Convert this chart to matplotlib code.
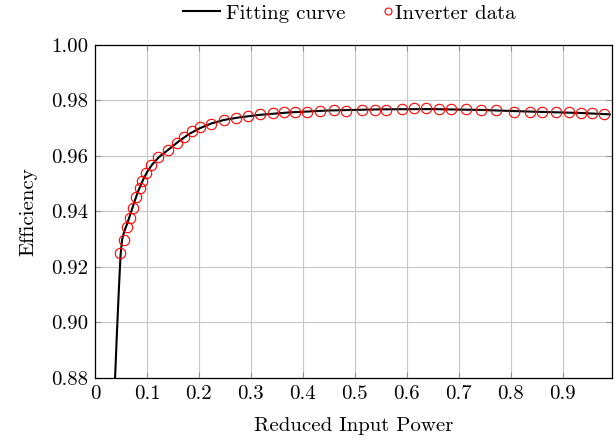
import matplotlib
matplotlib.use('Agg')
import matplotlib.pyplot as plt
from matplotlib.lines import Line2D
from matplotlib.ticker import FixedLocator, FixedFormatter

plt.rcParams['font.family'] = 'cmr10'
plt.rcParams['mathtext.fontset'] = 'cm'
plt.rcParams['axes.formatter.use_mathtext'] = True

data_x = [0.048, 0.056, 0.062, 0.0675, 0.073, 0.079, 0.086, 0.091, 0.098, 0.107,
          0.122, 0.141, 0.1575, 0.1716, 0.1876, 0.2028, 0.2236, 0.2479, 0.2712, 0.294,
          0.3171, 0.3418, 0.363, 0.3855, 0.408, 0.4332, 0.4594, 0.4833, 0.5133, 0.5392,
          0.5604, 0.590, 0.6136, 0.6375, 0.6612, 0.6843, 0.7133, 0.7435, 0.771, 0.8058,
          0.8366, 0.8603, 0.8867, 0.9118, 0.9363, 0.9575, 0.9798]
data_y = [0.9251, 0.9297, 0.9344, 0.9377, 0.9413, 0.9452, 0.9485, 0.9511, 0.9539, 0.9569,
          0.9595, 0.9622, 0.9646, 0.9670, 0.9690, 0.9706, 0.9717, 0.9730, 0.9738, 0.9744,
          0.9751, 0.9755, 0.9757, 0.9760, 0.9760, 0.9762, 0.9765, 0.9763, 0.9767, 0.9767,
          0.9767, 0.9771, 0.9772, 0.9772, 0.9770, 0.9770, 0.9768, 0.9766, 0.9766, 0.9760,
          0.9760, 0.9760, 0.9757, 0.9757, 0.9754, 0.9754, 0.9751]

# fitted curve samples
fit_x = [0.0386, 0.0424, 0.0463, 0.0492, 0.0520, 0.0559, 0.0617, 0.0675, 0.0733, 0.079,
         0.0848, 0.0925, 0.1002, 0.110, 0.123, 0.1427, 0.162, 0.181, 0.2005, 0.2236,
         0.2487, 0.2776, 0.3162, 0.374, 0.451, 0.5475, 0.644, 0.740, 0.8366, 0.933, 0.991]
fit_y = [0.8800, 0.8973, 0.9135, 0.9243, 0.9297, 0.9326, 0.9355, 0.9387, 0.9420, 0.9452,
         0.9481, 0.9514, 0.9542, 0.9569, 0.9596, 0.9625, 0.9654, 0.9679, 0.9699, 0.9717,
         0.9730, 0.9739, 0.9748, 0.9757, 0.9764, 0.9768, 0.9769, 0.9766, 0.9760, 0.9755, 0.9750]

xticks = [0, 0.1, 0.2, 0.3, 0.4, 0.5, 0.6, 0.7, 0.8, 0.9]
xtick_labels = ['0', '0.1', '0.2', '0.3', '0.4', '0.5', '0.6', '0.7', '0.8', '0.9']
yticks = [0.88, 0.90, 0.92, 0.94, 0.96, 0.98, 1.00]
ytick_labels = ['0.88', '0.90', '0.92', '0.94', '0.96', '0.98', '1.00']

fs = 15

fig = plt.figure(figsize=(6.15, 4.41), dpi=100)
ax = fig.add_axes([0.1545, 0.143, 0.8405, 0.755])

line, = ax.plot(fit_x, fit_y, color='black', lw=1.5, zorder=3)
ax.plot(data_x, data_y, ls='none', marker='o', markersize=7.5, mfc='none',
        mec='red', mew=0.8, zorder=4)

ax.set_xlim(0, 0.995)
ax.set_ylim(0.88, 1.00)
ax.xaxis.set_major_locator(FixedLocator(xticks))
ax.xaxis.set_major_formatter(FixedFormatter(xtick_labels))
ax.yaxis.set_major_locator(FixedLocator(yticks))
ax.yaxis.set_major_formatter(FixedFormatter(ytick_labels))
ax.grid(True, color='#c8c8c8', lw=0.8)
ax.set_axisbelow(True)
ax.tick_params(direction='in', top=True, right=True, length=4, color='#909090',
               labelsize=fs, pad=5)
for s in ax.spines.values():
    s.set_linewidth(0.9)

ax.set_xlabel('Reduced Input Power', fontsize=fs, labelpad=10)
ax.set_ylabel('Efficiency', fontsize=fs, labelpad=10)

# legend above the plot, two pieces so the marker sits close to its text
h_line = Line2D([], [], color='black', lw=1.5)
h_mark = Line2D([], [], ls='none', marker='o', markersize=5, mfc='none', mec='red', mew=0.8)
leg1 = fig.legend([h_line], ['Fitting curve'], loc='center left',
                  bbox_to_anchor=(183 / 615, 0.970), frameon=False, fontsize=fs,
                  handlelength=1.78, handletextpad=0.29, borderpad=0, borderaxespad=0)
leg2 = fig.legend([h_mark], ['Inverter data'], loc='center left',
                  bbox_to_anchor=(382 / 615, 0.970), frameon=False, fontsize=fs,
                  handlelength=0.6, handletextpad=0.03, borderpad=0, borderaxespad=0)

fig.savefig('out.png', dpi=100)
